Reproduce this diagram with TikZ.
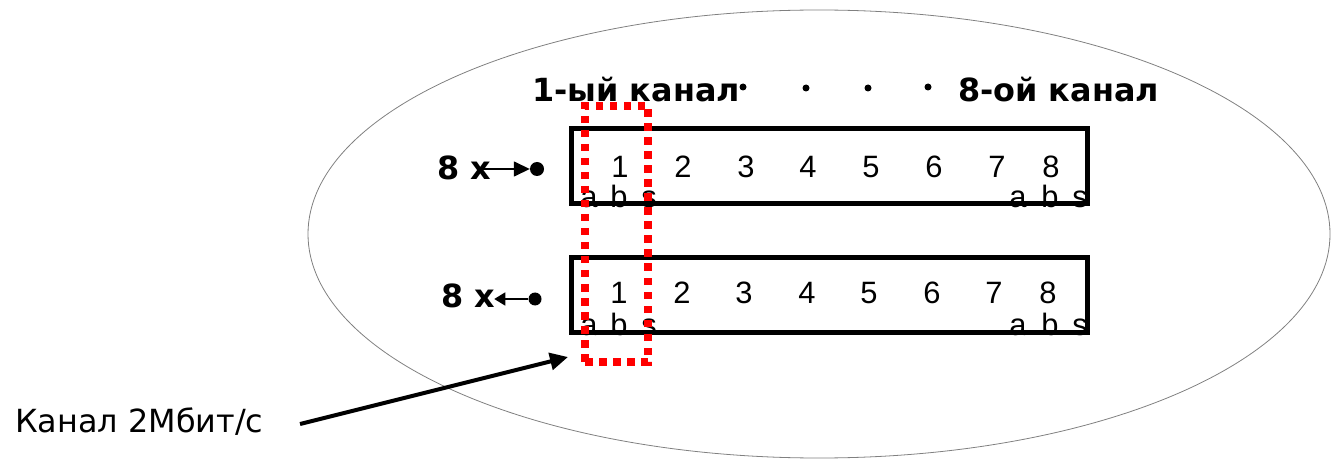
\documentclass[tikz,border=0pt]{standalone}
\usepackage{fontspec}
\setmainfont{DejaVu Sans}
\newfontfamily\arialf{Liberation Sans}
\usetikzlibrary{arrows.meta}
\begin{document}
\begin{tikzpicture}[x=1bp,y=-1bp,
  digit/.style={font=\arialf\fontsize{31}{37}\selectfont, anchor=base, inner sep=0pt},
  boldlab/.style={font=\bfseries\fontsize{32}{38}\selectfont, anchor=base west, inner sep=0pt},
  framebox/.style={draw, line width=5bp, minimum width=516bp, minimum height=75bp, inner sep=0pt},
  dotnode/.style={circle, fill, inner sep=0pt, minimum size=#1},
  smalldot/.style={circle, fill, inner sep=0pt, minimum size=7bp}]
\useasboundingbox (0,0) rectangle (1334,459);
% ellipse
\draw[gray, line width=0.8bp] (819,234) ellipse [x radius=511, y radius=224];
% frames
\node[framebox] (row1) at (829,166.5) {};
\node[framebox] (row2) at (829,295) {};
% digits
\foreach \x [count=\i] in {620,683,746,808,871,934,997,1051}
  \node[digit] (ta\i) at (\x,178) {\i};
\foreach \x [count=\i] in {619,682,744,807,869,932,994,1048}
  \node[digit] (ba\i) at (\x,304) {\i};
% a b s
\foreach \x/\t [count=\i] in {589/a,619/b,649/s,1018/a,1050/b,1080/s}
  \node[digit] (tl\i) at (\x,208) {\t};
\foreach \x/\t [count=\i] in {589/a,619/b,649/s,1018/a,1050/b,1080/s}
  \node[digit] (bl\i) at (\x,335) {\t};
% titles
\node[boldlab] (first) at (532,102) {1-ый канал};
\node[boldlab] (last) at (958,102) {8-ой канал};
\node[smalldot] (p1) at (743,87) {};
\node[smalldot] (p2) at (806,88) {};
\node[smalldot] (p3) at (868,88) {};
\node[smalldot] (p4) at (928,87) {};
% 8 x labels
\node[boldlab] (x1) at (437,180) {8 x};
\node[boldlab] (x2) at (441,308) {8 x};
\node[dotnode=14bp] (d1) at (537,169) {};
\node[dotnode=13bp] (d2) at (535,299) {};
\draw[line width=1.5bp, -{Triangle[length=16bp,width=15bp]}] ([xshift=-8bp]x1.east |- d1.west) -- (d1.west);
\draw[line width=1.5bp, -{Triangle[length=11bp,width=13bp]}] (d2.west) -- ([xshift=-1bp]x2.east |- d2.west);
% red channel frame
\node[draw=red, line width=7.5bp, dash pattern=on 7.5bp off 6.5bp, minimum width=63bp, minimum height=256bp, inner sep=0pt] (chan) at (616.5,234) {};
% label and arrow
\node[font=\fontsize{32}{38}\selectfont, anchor=base west, inner sep=0pt] (lab) at (15,432) {Канал 2Мбит/с};
\coordinate (tail) at (300,424);
\coordinate (tip) at (568,357);
\draw[line width=4bp, -{Triangle[length=18bp,width=17bp]}] (tail) -- (tip);
\end{tikzpicture}
\end{document}
